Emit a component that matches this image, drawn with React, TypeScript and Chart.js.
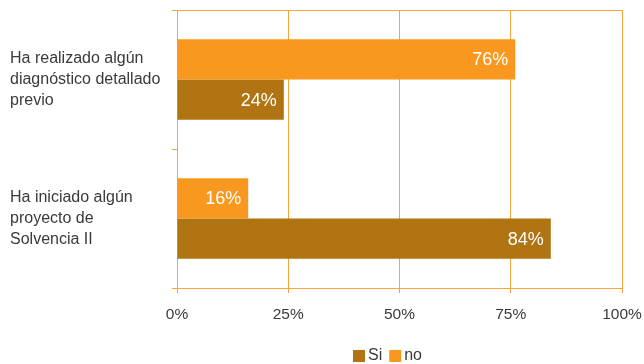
import React, { useEffect, useRef } from "react";
import { Chart, registerables } from "chart.js";

Chart.register(...registerables);

const categories: string[][] = [
  ["Ha realizado algún", "diagnóstico detallado", "previo"],
  ["Ha iniciado algún", "proyecto de", "Solvencia II"],
];
const siValues = [24, 84];
const noValues = [76, 16];
const xTickValues = [0, 25, 50, 75, 100];
const seriesNames = ["Si", "no"];

const ORANGE = "#F8981F";
const BROWN = "#B07412";
const GRID = "#F9A33C";
const TEXT = "#3A3A3A";
const FONT = "'Liberation Sans', Arial, sans-serif";

export default function App() {
  const ref = useRef<HTMLCanvasElement | null>(null);

  useEffect(() => {
    if (!ref.current) return;

    const boxPlugin = {
      id: "boxBorder",
      afterDraw(chart: any) {
        const { ctx, chartArea } = chart;
        ctx.save();
        ctx.strokeStyle = GRID;
        ctx.lineWidth = 1;
        ctx.beginPath();
        ctx.moveTo(Math.round(chartArea.left) + 0.5, Math.round(chartArea.top) + 0.5);
        ctx.lineTo(Math.round(chartArea.right) + 0.5, Math.round(chartArea.top) + 0.5);
        ctx.lineTo(Math.round(chartArea.right) + 0.5, Math.round(chartArea.bottom) + 0.5);
        ctx.stroke();
        ctx.restore();
      },
    };

    const labelPlugin = {
      id: "barLabels",
      afterDatasetsDraw(chart: any) {
        const { ctx } = chart;
        ctx.save();
        ctx.font = `18px ${FONT}`;
        ctx.fillStyle = "#FFFFFF";
        ctx.textAlign = "right";
        ctx.textBaseline = "middle";
        chart.data.datasets.forEach((ds: any, di: number) => {
          const meta = chart.getDatasetMeta(di);
          meta.data.forEach((bar: any, i: number) => {
            ctx.fillText(ds.data[i] + "%", bar.x - 7, bar.y + 1);
          });
        });
        ctx.restore();
      },
    };

    const legendPlugin = {
      id: "customLegend",
      afterDraw(chart: any) {
        const { ctx, chartArea } = chart;
        ctx.save();
        ctx.font = `16px ${FONT}`;
        ctx.textBaseline = "middle";
        ctx.textAlign = "left";
        const items = seriesNames.map((n) => ({
          name: n,
          color: n === "Si" ? BROWN : ORANGE,
        }));
        const box = 12;
        const gapText = 3;
        const gapItem = 7;
        let total = 0;
        items.forEach((it, i) => {
          total += box + gapText + ctx.measureText(it.name).width;
          if (i < items.length - 1) total += gapItem;
        });
        const center = (chartArea.left + chartArea.right) / 2 - 12;
        let x = center - total / 2;
        const y = chart.height - 8;
        items.forEach((it) => {
          ctx.fillStyle = it.color;
          ctx.fillRect(x, y - 6, box, box);
          x += box + gapText;
          ctx.fillStyle = TEXT;
          ctx.fillText(it.name, x, y);
          x += ctx.measureText(it.name).width + gapItem;
        });
        ctx.restore();
      },
    };

    const chart = new Chart(ref.current, {
      type: "bar",
      data: {
        labels: categories,
        datasets: [
          { label: "no", data: noValues, backgroundColor: ORANGE, barPercentage: 1, categoryPercentage: 0.58 },
          { label: "Si", data: siValues, backgroundColor: BROWN, barPercentage: 1, categoryPercentage: 0.58 },
        ],
      },
      options: {
        indexAxis: "y",
        animation: false,
        responsive: false,
        layout: { padding: { left: 10, right: 22, top: 10, bottom: 0 } },
        plugins: {
          legend: { display: false },
          tooltip: { enabled: false },
        },
        scales: {
          x: {
            min: 0,
            max: 100,
            afterBuildTicks(scale: any) {
              scale.ticks = xTickValues.map((v) => ({ value: v }));
            },
            afterFit(scale: any) {
              scale.height = 76;
              scale.paddingLeft = 0;
              scale.paddingRight = 0;
            },
            ticks: {
              callback: (v: any) => v + "%",
              color: TEXT,
              font: { size: 15.5, family: FONT },
              padding: 12,
              maxRotation: 0,
            },
            grid: { color: GRID, tickLength: 5, lineWidth: 1 },
            border: { color: GRID },
          },
          y: {
            type: "category",
            offset: true,
            afterFit(scale: any) {
              scale.width = 167;
              scale.paddingTop = 0;
              scale.paddingBottom = 0;
            },
            ticks: {
              crossAlign: "far",
              color: TEXT,
              font: { size: 16, family: FONT, lineHeight: 1.33 },
            },
            grid: { offset: true, drawOnChartArea: false, color: GRID, tickLength: 5 },
            border: { color: GRID },
          },
        },
      },
      plugins: [boxPlugin, labelPlugin, legendPlugin],
    } as any);

    return () => chart.destroy();
  }, []);

  return (
    <div style={{ position: "absolute", left: 0, top: 0, width: 644, height: 364, background: "#fff" }}>
      <canvas ref={ref} width={644} height={364} />
    </div>
  );
}
